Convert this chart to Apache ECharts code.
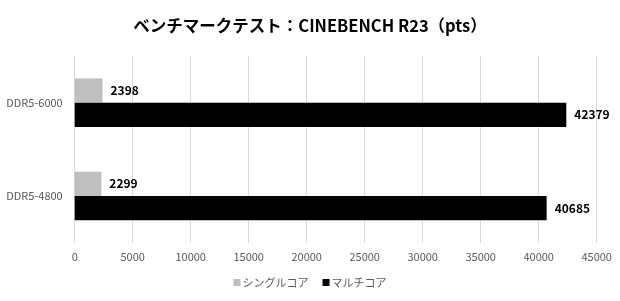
<!DOCTYPE html>
<html>
<head>
<meta charset="utf-8">
<script src="https://cdn.jsdelivr.net/npm/echarts@6/dist/echarts.min.js"></script>
<style>
  html, body { margin: 0; padding: 0; background: #fff; }
  #chart { width: 620px; height: 301px; }
</style>
</head>
<body>
<div id="chart"></div>
<script>
// Memory configurations, listed top to bottom
const categories = ['DDR5-6000', 'DDR5-4800'];
// CINEBENCH R23 scores (pts)
const singleCore = [2398, 2299];
const multiCore = [42379, 40685];
const seriesNames = ['シングルコア', 'マルチコア'];
const xTicks = { min: 0, max: 45000, interval: 5000 };

const FONT = '"Noto Sans CJK JP", "Noto Sans", sans-serif';

const chart = echarts.init(document.getElementById('chart'), null, { renderer: 'canvas' });

const valueLabel = {
  show: true,
  position: 'right',
  distance: 8,
  color: '#000',
  fontWeight: 'bold',
  fontSize: 12,
  fontFamily: FONT
};

chart.setOption({
  animation: false,
  backgroundColor: '#fff',
  title: {
    text: 'ベンチマークテスト：CINEBENCH R23（pts）',
    left: 'center',
    top: 12,
    textStyle: { fontSize: 16.5, fontWeight: 'bold', color: '#000', fontFamily: FONT }
  },
  legend: {
    data: seriesNames,
    bottom: 8,
    left: 'center',
    icon: 'rect',
    itemWidth: 7,
    itemHeight: 7,
    itemGap: 14,
    textStyle: { fontSize: 11, color: '#595959', fontFamily: FONT, padding: [0, 0, 0, -3] }
  },
  grid: { left: 74.7, right: 23.3, top: 56, bottom: 58.3, containLabel: false },
  xAxis: {
    type: 'value',
    min: xTicks.min,
    max: xTicks.max,
    interval: xTicks.interval,
    axisLine: { show: false },
    axisTick: { show: false },
    axisLabel: {
      color: '#595959', fontSize: 11, fontFamily: FONT, margin: 9,
      formatter: (v) => String(v)
    },
    splitLine: { show: true, lineStyle: { color: '#d9d9d9', width: 1 } }
  },
  yAxis: {
    type: 'category',
    data: categories,
    inverse: true,
    axisLine: { show: false },
    axisTick: { show: false },
    axisLabel: { color: '#595959', fontSize: 11, fontFamily: FONT, margin: 12 }
  },
  series: [
    {
      name: seriesNames[0],
      type: 'bar',
      data: singleCore,
      itemStyle: { color: '#bfbfbf' },
      barGap: '0%',
      barCategoryGap: '48%',
      label: valueLabel
    },
    {
      name: seriesNames[1],
      type: 'bar',
      data: multiCore,
      itemStyle: { color: '#000' },
      barGap: '0%',
      barCategoryGap: '48%',
      label: valueLabel
    }
  ]
});
</script>
</body>
</html>
